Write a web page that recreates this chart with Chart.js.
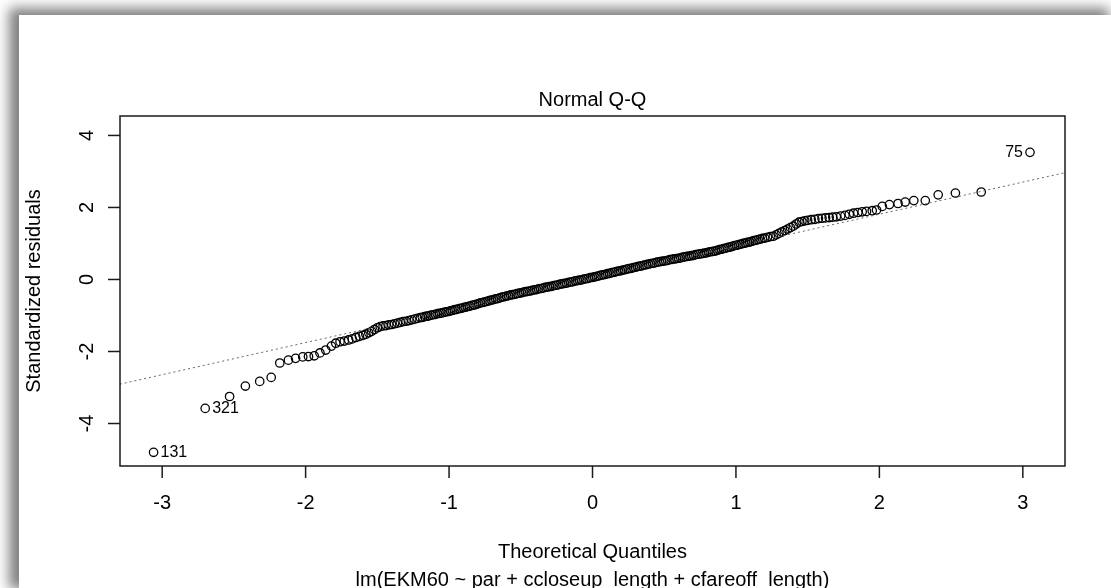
<!DOCTYPE html>
<html>
<head>
<meta charset="utf-8">
<title>Normal Q-Q</title>
<script src="https://cdn.jsdelivr.net/npm/chart.js@4.4.1/dist/chart.umd.min.js"></script>
<style>
  html, body { margin: 0; padding: 0; background: #fff; }
  body { width: 1111px; height: 588px; overflow: hidden; position: relative; }
  #frame { position: absolute; left: 19px; top: 15px; width: 1092px; height: 573px; background: #fff;
           box-shadow: -6px -3px 12px 4px rgba(0,0,0,0.5); }
  canvas { display: block; }
</style>
</head>
<body>
<div id="frame"><canvas id="qq" width="1092" height="573"></canvas></div>
<script>
// Normal Q-Q plot of lm(EKM60 ~ ...) residuals

// theoretical quantiles (x) and standardized residuals (y)
const qqX = [
  -3.06, -2.70, -2.53, -2.42, -2.32, -2.24, -2.18, -2.12, -2.07, -2.02,
  -1.98, -1.94, -1.90, -1.86, -1.82, -1.79,
  -1.76, -1.73, -1.70, -1.675, -1.65, -1.625, -1.60, -1.58, -1.56, -1.54,
  -1.52, -1.50, -1.48, -1.46, -1.44, -1.42, -1.40, -1.38, -1.36, -1.34,
  -1.32, -1.30, -1.28, -1.26, -1.24, -1.22, -1.20,
  -1.185, -1.170, -1.155, -1.140, -1.125, -1.110, -1.095, -1.080, -1.065, -1.050,
  -1.035, -1.020, -1.005, -0.990, -0.975, -0.960, -0.945, -0.930, -0.915, -0.900,
  -0.885, -0.870, -0.855, -0.840, -0.825, -0.810, -0.795, -0.780, -0.765, -0.750,
  -0.735, -0.720, -0.705, -0.690, -0.675, -0.660, -0.645, -0.630, -0.615, -0.600,
  -0.585, -0.570, -0.555, -0.540, -0.525, -0.510, -0.495, -0.480, -0.465, -0.450,
  -0.435, -0.420, -0.405, -0.390, -0.375, -0.360, -0.345, -0.330, -0.315, -0.300,
  -0.285, -0.270, -0.255, -0.240, -0.225, -0.210, -0.195, -0.180, -0.165, -0.150,
  -0.135, -0.120, -0.105, -0.090, -0.075, -0.060, -0.045, -0.030, -0.015, 0.000,
  0.015, 0.030, 0.045, 0.060, 0.075, 0.090, 0.105, 0.120, 0.135, 0.150,
  0.165, 0.180, 0.195, 0.210, 0.225, 0.240, 0.255, 0.270, 0.285, 0.300,
  0.315, 0.330, 0.345, 0.360, 0.375, 0.390, 0.405, 0.420, 0.435, 0.450,
  0.465, 0.480, 0.495, 0.510, 0.525, 0.540, 0.555, 0.570, 0.585, 0.600,
  0.615, 0.630, 0.645, 0.660, 0.675, 0.690, 0.705, 0.720, 0.735, 0.750,
  0.765, 0.780, 0.795, 0.810, 0.825, 0.840, 0.855, 0.870, 0.885, 0.900,
  0.915, 0.930, 0.945, 0.960, 0.975, 0.990, 1.005, 1.020, 1.035, 1.050,
  1.065, 1.080, 1.095, 1.110, 1.125, 1.140, 1.155, 1.170, 1.185,
  1.20, 1.22, 1.24, 1.26, 1.28, 1.30, 1.32, 1.34, 1.36, 1.38,
  1.40, 1.42, 1.44, 1.46, 1.48, 1.50, 1.525, 1.55, 1.575, 1.60,
  1.625, 1.65, 1.675, 1.70, 1.73, 1.76, 1.79, 1.82, 1.85, 1.88,
  1.91, 1.95, 1.98,
  2.02, 2.07, 2.13, 2.18, 2.24, 2.32, 2.41, 2.53, 2.71, 3.05
];
const qqY = [
  -4.80, -3.58, -3.25, -2.96, -2.83, -2.72, -2.32, -2.24, -2.19, -2.15,
  -2.14, -2.12, -2.04, -1.96, -1.85, -1.77,
  -1.73, -1.71, -1.68, -1.65, -1.61, -1.58, -1.55, -1.52, -1.48, -1.44,
  -1.39, -1.34, -1.31, -1.29, -1.28, -1.26, -1.25, -1.23, -1.21, -1.19,
  -1.17, -1.16, -1.14, -1.12, -1.10, -1.08, -1.06,
  -1.05, -1.03, -1.02, -1.01, -0.99, -0.98, -0.97, -0.95, -0.94, -0.93,
  -0.91, -0.90, -0.89, -0.87, -0.86, -0.84, -0.83, -0.81, -0.80, -0.78,
  -0.77, -0.75, -0.74, -0.72, -0.71, -0.69, -0.67, -0.65, -0.64, -0.62,
  -0.61, -0.59, -0.57, -0.56, -0.54, -0.53, -0.51, -0.49, -0.48, -0.46,
  -0.45, -0.43, -0.42, -0.41, -0.39, -0.38, -0.37, -0.35, -0.34, -0.33,
  -0.32, -0.30, -0.29, -0.28, -0.26, -0.25, -0.24, -0.22, -0.21, -0.20,
  -0.19, -0.17, -0.16, -0.15, -0.13, -0.12, -0.11, -0.10, -0.08, -0.07,
  -0.06, -0.04, -0.03, -0.02, -0.01, 0.01, 0.02, 0.03, 0.05, 0.06,
  0.07, 0.09, 0.10, 0.12, 0.13, 0.14, 0.16, 0.17, 0.19, 0.20,
  0.22, 0.23, 0.24, 0.26, 0.27, 0.29, 0.30, 0.31, 0.33, 0.34,
  0.36, 0.37, 0.38, 0.40, 0.41, 0.43, 0.44, 0.45, 0.46, 0.48,
  0.49, 0.50, 0.51, 0.52, 0.53, 0.55, 0.56, 0.57, 0.58, 0.59,
  0.60, 0.62, 0.63, 0.64, 0.65, 0.66, 0.67, 0.69, 0.70, 0.71,
  0.72, 0.73, 0.74, 0.76, 0.77, 0.78, 0.79, 0.81, 0.83, 0.84,
  0.86, 0.87, 0.89, 0.90, 0.92, 0.94, 0.95, 0.97, 0.98, 1.00,
  1.01, 1.03, 1.04, 1.06, 1.08, 1.09, 1.11, 1.12, 1.14,
  1.15, 1.17, 1.19, 1.20, 1.24, 1.28, 1.32, 1.36, 1.40, 1.44,
  1.48, 1.54, 1.59, 1.61, 1.63, 1.64, 1.66, 1.67, 1.69, 1.70,
  1.71, 1.72, 1.73, 1.74, 1.76, 1.78, 1.81, 1.84, 1.86, 1.88,
  1.89, 1.91, 1.93,
  2.03, 2.08, 2.11, 2.15, 2.19, 2.19, 2.35, 2.40, 2.43, 3.53
];

// qqline (dotted reference line), given by two points
const lineX = [-3.5, 3.5];
const lineY = [-3.09, 3.15];

// labelled observations
const labelIdx = [0, 1, qqX.length - 1];
const labelText = ['131', '321', '75'];

// axes
const xTicks = [-3, -2, -1, 0, 1, 2, 3];
const yTicks = [-4, -2, 0, 2, 4];
const xLimits = [-3.294, 3.294];
const yLimits = [-5.18, 4.54];

const mainTitle = 'Normal Q-Q';
const xTitle = 'Theoretical Quantiles';
const subTitle = 'lm(EKM60 ~ par + ccloseup_length + cfareoff_length)';
const yTitle = 'Standardized residuals';

const FONT = '"Liberation Sans", Arial, sans-serif';

// R-style box, ticks and texts
const rDecor = {
    id: 'rDecor',
    afterDraw(chart) {
        const { ctx, chartArea: a, scales: { x, y } } = chart;
        const cx = (a.left + a.right) / 2;
        const cy = (a.top + a.bottom) / 2;
        ctx.save();
        ctx.strokeStyle = '#1a1a1a';
        ctx.lineWidth = 1.5;
        ctx.strokeRect(a.left, a.top, a.right - a.left, a.bottom - a.top);

        ctx.fillStyle = '#000';
        ctx.font = '20px ' + FONT;
        ctx.textAlign = 'center';
        ctx.textBaseline = 'middle';

        xTicks.forEach(v => {
            const px = x.getPixelForValue(v);
            ctx.beginPath(); ctx.moveTo(px, a.bottom); ctx.lineTo(px, a.bottom + 12); ctx.stroke();
            ctx.fillText(String(v), px, a.bottom + 37);
        });
        yTicks.forEach(v => {
            const py = y.getPixelForValue(v);
            ctx.beginPath(); ctx.moveTo(a.left, py); ctx.lineTo(a.left - 12, py); ctx.stroke();
            ctx.save();
            ctx.translate(a.left - 33, py);
            ctx.rotate(-Math.PI / 2);
            ctx.fillText(String(v), 0, 0);
            ctx.restore();
        });

        ctx.fillText(mainTitle, cx, a.top - 16);
        ctx.fillText(xTitle, cx, a.bottom + 86);
        ctx.fillText(subTitle, cx, a.bottom + 114);
        ctx.save();
        ctx.translate(a.left - 86, cy);
        ctx.rotate(-Math.PI / 2);
        ctx.fillText(yTitle, 0, 0);
        ctx.restore();

        // point ids: right of the point on the left side, left of it on the right side
        ctx.font = '16px ' + FONT;
        labelIdx.forEach((idx, i) => {
            const px = x.getPixelForValue(qqX[idx]);
            const py = y.getPixelForValue(qqY[idx]);
            const onLeft = qqX[idx] < 0;
            ctx.textAlign = onLeft ? 'left' : 'right';
            ctx.fillText(labelText[i], onLeft ? px + 7 : px - 7, py);
        });
        ctx.restore();
    }
};

const points = qqX.map((v, i) => ({ x: v, y: qqY[i] }));
const linePts = lineX.map((v, i) => ({ x: v, y: lineY[i] }));

new Chart(document.getElementById('qq'), {
    type: 'scatter',
    data: {
        datasets: [
            {
                label: 'qqline',
                data: linePts,
                showLine: true,
                pointRadius: 0,
                borderColor: '#666',
                borderWidth: 1,
                borderDash: [2, 3]
            },
            {
                label: 'residuals',
                data: points,
                pointRadius: 4.2,
                pointHoverRadius: 4.2,
                pointBorderWidth: 1.3,
                pointBorderColor: '#000',
                pointBackgroundColor: 'rgba(0,0,0,0)'
            }
        ]
    },
    options: {
        responsive: false,
        animation: false,
        devicePixelRatio: 1,
        layout: { padding: { left: 101, top: 101, right: 46, bottom: 122 } },
        plugins: { legend: { display: false }, tooltip: { enabled: false } },
        scales: {
            x: { type: 'linear', display: false, min: xLimits[0], max: xLimits[1] },
            y: { type: 'linear', display: false, min: yLimits[0], max: yLimits[1] }
        }
    },
    plugins: [rDecor]
});
</script>
</body>
</html>
